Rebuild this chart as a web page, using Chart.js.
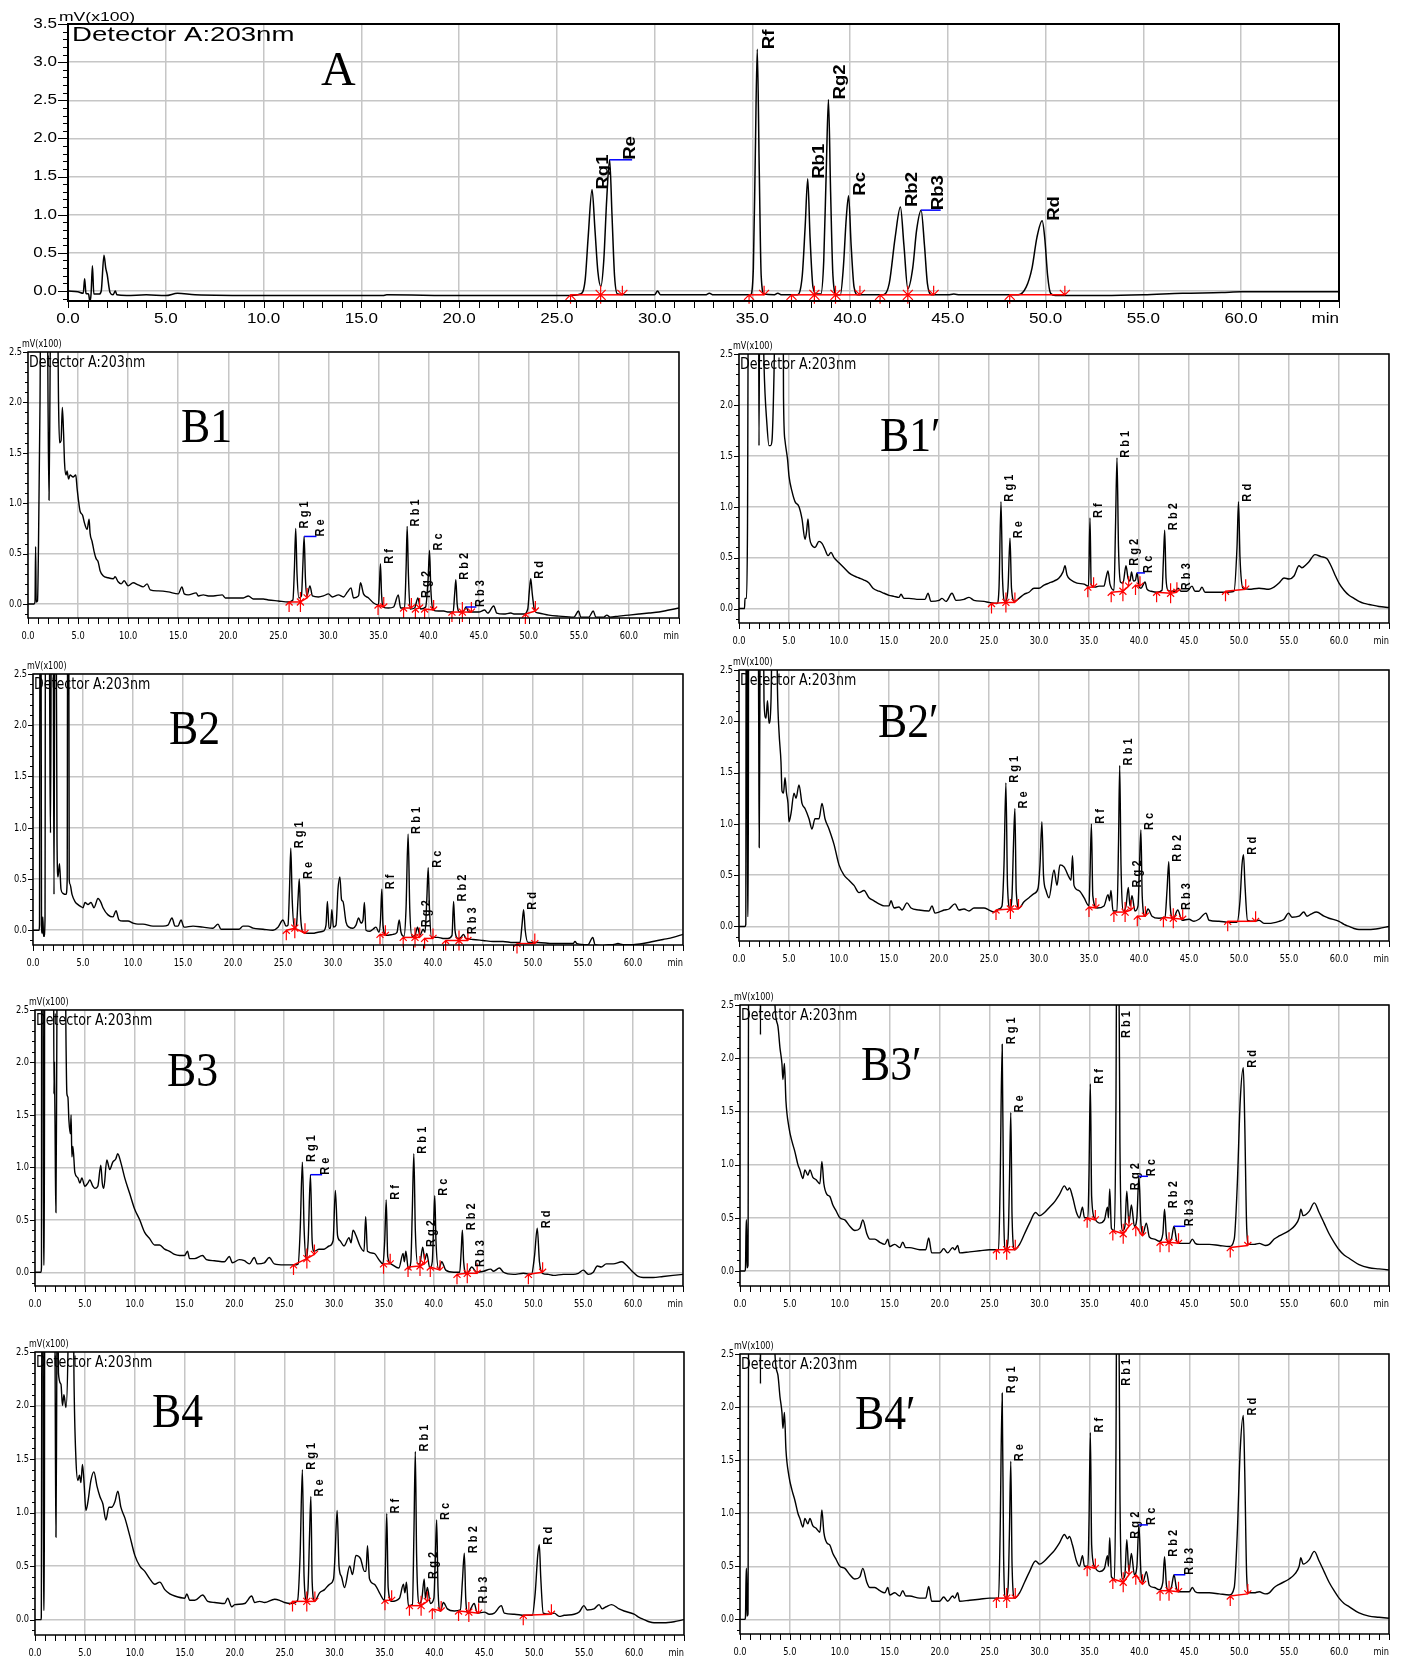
<!DOCTYPE html>
<html>
<head>
<meta charset="utf-8">
<script src="https://cdn.jsdelivr.net/npm/chart.js@4.4.1/dist/chart.umd.min.js"></script>
<style>
html, body { margin: 0; padding: 0; background: #fff; }
body { position: relative; width: 1405px; height: 1661px; overflow: hidden; }
canvas { position: absolute; }
</style>
</head>
<body>
<script>
// ---- shared labels ----
const peakNamesA = ['Rg1', 'Re', 'Rf', 'Rb1', 'Rg2', 'Rc', 'Rb2', 'Rb3', 'Rd'];
const peakNamesB = ['R g 1', 'R e', 'R f', 'R b 1', 'R g 2', 'R c', 'R b 2', 'R b 3', 'R d'];
const xTickLabels = ['0.0', '5.0', '10.0', '15.0', '20.0', '25.0', '30.0', '35.0', '40.0', '45.0', '50.0', '55.0', '60.0', 'min'];
const yTickLabelsA = ['0.0', '0.5', '1.0', '1.5', '2.0', '2.5', '3.0', '3.5'];
const yTickLabelsB = ['0.0', '0.5', '1.0', '1.5', '2.0', '2.5'];
const panelTitles = ['A', 'B1', 'B1\u2032', 'B2', 'B2\u2032', 'B3', 'B3\u2032', 'B4', 'B4\u2032'];

// ---- A : standards ----
const aTrace = [[0,0],[0.5,-0.01],[0.78,-0.03],[0.85,0.16],[0.92,-0.03],[1.05,-0.04],[1.12,-0.14],[1.18,-0.04],[1.25,0.33],[1.32,-0.04],[1.6,-0.04],[1.7,0.0],[1.84,0.47],[1.93,0.3],[2.0,0.22],[2.15,-0.02],[2.3,-0.05],[2.42,0.0],[2.5,-0.05],[3,-0.06],[4,-0.05],[5.0,-0.06],[5.6,-0.03],[6.5,-0.05],[10,-0.06],[16.1,-0.06],[16.3,-0.05],[20,-0.06],[25.5,-0.06],[26.2,-0.04],[26.45,0.15],[26.6,0.7],[26.8,1.33],[26.95,0.8],[27.1,0.25],[27.25,0.06],[27.4,0.4],[27.55,1.2],[27.7,1.72],[27.82,1.0],[27.95,0.2],[28.1,-0.04],[28.5,-0.05],[30,-0.05],[30.15,0.0],[30.3,-0.05],[32.6,-0.05],[32.8,-0.03],[33,-0.05],[34.9,-0.05],[35.05,0.3],[35.15,1.8],[35.25,3.17],[35.35,1.6],[35.45,0.2],[35.6,-0.04],[36.1,-0.05],[36.3,-0.03],[36.5,-0.05],[37.3,-0.05],[37.55,0.2],[37.7,0.85],[37.83,1.47],[37.95,0.7],[38.1,0.05],[38.3,-0.04],[38.5,-0.04],[38.65,0.4],[38.78,1.6],[38.89,2.51],[39.0,1.3],[39.12,0.2],[39.3,-0.05],[39.5,-0.05],[39.65,0.3],[39.8,0.95],[39.92,1.25],[40.05,0.6],[40.2,0.05],[40.4,-0.05],[41.7,-0.05],[42.0,0.1],[42.3,0.7],[42.57,1.10],[42.75,0.6],[42.95,0.03],[43.2,0.3],[43.4,0.8],[43.63,1.06],[43.8,0.6],[43.95,0.1],[44.15,-0.05],[45,-0.05],[45.3,-0.04],[45.6,-0.05],[48.6,-0.05],[49.0,0.05],[49.3,0.3],[49.55,0.7],[49.82,0.92],[49.95,0.7],[50.1,0.2],[50.25,-0.03],[50.5,-0.06],[53,-0.06],[55,-0.05],[57,-0.03],[59,-0.02],[60,-0.01],[63,-0.01],[65,-0.01]];
const aPeakT = [26.8, 27.7, 35.25, 37.83, 38.89, 39.92, 42.57, 43.63, 49.82];
const aPeakV = [1.33, 1.72, 3.17, 1.47, 2.51, 1.25, 1.10, 1.06, 0.92];
const aBase = [[25.7,-0.05,27.24,-0.05],[27.24,-0.05,28.35,-0.05],[34.83,-0.05,35.6,-0.05],[37.0,-0.05,38.17,-0.05],[38.17,-0.05,39.25,-0.05],[39.25,-0.05,40.5,-0.05],[41.53,-0.05,42.95,-0.05],[42.95,-0.05,44.27,-0.05],[48.16,-0.05,50.98,-0.05]];
const aBlue = [['Re', 28.85], ['Rb3', 44.63]];

// ---- B1 ----
const b1Trace = [[0,0],[0.6,0],[0.7,0.02],[0.76,0.57],[0.82,0.02],[0.95,0.03],[1.05,0.6],[1.2,2.0],[1.3,3.5],[1.9,3.5],[2.0,2.0],[2.1,1.03],[2.2,2.2],[2.3,3.5],[2.9,3.5],[3.05,2.0],[3.15,1.6],[3.3,1.62],[3.43,1.95],[3.55,1.7],[3.65,1.4],[3.8,1.28],[3.9,1.32],[4.05,1.24],[4.2,1.28],[4.5,1.26],[4.77,1.28],[4.9,1.15],[5.05,1.02],[5.2,0.92],[5.45,0.88],[5.65,0.8],[5.9,0.74],[6.1,0.84],[6.2,0.7],[6.4,0.62],[6.6,0.52],[6.8,0.45],[7.0,0.42],[7.2,0.33],[7.5,0.28],[8.0,0.26],[8.5,0.25],[8.7,0.27],[9.0,0.22],[9.3,0.2],[9.6,0.23],[10.0,0.18],[10.5,0.21],[11.0,0.19],[11.5,0.17],[11.9,0.2],[12.2,0.14],[13.0,0.13],[14.0,0.12],[15.0,0.1],[15.37,0.17],[15.6,0.1],[16.0,0.09],[16.8,0.11],[17.0,0.08],[17.5,0.09],[18.0,0.08],[18.5,0.08],[19.4,0.09],[19.7,0.06],[20.5,0.06],[21.5,0.06],[22.0,0.08],[22.5,0.05],[23.5,0.05],[24.0,0.04],[25.0,0.03],[26.0,0.02],[26.45,0.04],[26.6,0.35],[26.73,0.75],[26.86,0.3],[27.05,0.06],[27.3,0.08],[27.45,0.4],[27.57,0.67],[27.7,0.25],[27.85,0.08],[28.15,0.18],[28.4,0.08],[29.0,0.07],[29.5,0.08],[30.0,0.1],[30.4,0.07],[31.0,0.09],[31.5,0.07],[31.9,0.12],[32.25,0.16],[32.5,0.06],[33.0,0.08],[33.2,0.21],[33.5,0.1],[34.0,0.06],[34.5,0.01],[35.0,-0.01],[35.08,0.15],[35.19,0.4],[35.3,0.1],[35.45,-0.03],[36.0,-0.04],[36.5,-0.03],[36.97,0.09],[37.2,-0.04],[37.6,-0.04],[37.75,0.35],[37.86,0.77],[37.98,0.3],[38.15,-0.05],[38.6,-0.04],[38.93,0.06],[39.2,-0.05],[39.7,-0.03],[39.95,0.25],[40.09,0.53],[40.22,0.15],[40.45,-0.06],[41.0,-0.07],[41.5,-0.07],[42.0,-0.08],[42.45,-0.08],[42.6,0.1],[42.72,0.24],[42.85,0.0],[43.1,-0.08],[43.5,-0.07],[43.74,-0.03],[44.0,-0.08],[45.0,-0.08],[45.6,-0.06],[45.9,-0.09],[46.5,-0.02],[46.8,-0.09],[47.5,-0.1],[48.2,-0.09],[48.6,-0.1],[49.5,-0.1],[49.9,-0.05],[50.05,0.12],[50.2,0.25],[50.35,0.1],[50.6,-0.07],[51.0,-0.09],[52.0,-0.11],[53.0,-0.12],[54.5,-0.13],[54.97,-0.07],[55.2,-0.13],[56.0,-0.13],[56.44,-0.07],[56.7,-0.13],[57.5,-0.13],[57.8,-0.11],[58.1,-0.13],[59.0,-0.12],[60.0,-0.11],[61.0,-0.1],[62.0,-0.09],[63.0,-0.08],[64.0,-0.06],[65.0,-0.04]];
const b1PeakT = [26.73, 27.57, 35.19, 37.86, 38.93, 40.09, 42.72, 43.74, 50.2];
const b1PeakV = [0.75, 0.67, 0.40, 0.77, 0.06, 0.53, 0.24, -0.03, 0.25];
const b1Base = [[26.07,0.02,27.2,0.02],[27.2,0.02,27.87,0.06],[34.95,-0.01,35.52,-0.03],[37.5,-0.04,38.28,-0.04],[38.68,-0.05,39.1,-0.04],[39.6,-0.05,40.5,-0.06],[42.33,-0.08,43.37,-0.08],[43.37,-0.08,44.27,-0.08],[49.66,-0.1,50.66,-0.07]];
const b1Blue = [['Re', 28.8], ['Rb3', 44.77]];

// ---- B1' ----
const b1pTrace = [[0,0],[0.55,0],[0.6,0.1],[0.75,0.1],[0.85,0.8],[0.95,3.5],[1.95,3.5],[2.0,1.6],[2.08,3.5],[2.3,3.5],[2.5,2.4],[2.8,1.8],[3.0,1.6],[3.15,1.6],[3.3,1.65],[3.5,2.3],[3.7,3.5],[4.4,3.5],[4.45,2.08],[4.6,1.65],[4.86,1.46],[5.0,1.3],[5.3,1.15],[5.6,1.05],[6.0,1.0],[6.3,0.88],[6.6,0.68],[6.75,0.75],[6.9,0.88],[7.05,0.7],[7.3,0.62],[7.6,0.6],[8.0,0.66],[8.3,0.64],[8.6,0.58],[8.9,0.52],[9.2,0.55],[9.5,0.5],[10.0,0.45],[10.5,0.4],[11.0,0.35],[11.5,0.32],[12.0,0.3],[12.5,0.28],[13.0,0.25],[13.4,0.2],[14.0,0.17],[14.5,0.15],[15.0,0.13],[15.5,0.12],[16.0,0.11],[16.2,0.14],[16.5,0.1],[17.0,0.1],[18.0,0.09],[18.6,0.09],[18.9,0.15],[19.2,0.07],[20.0,0.08],[20.3,0.1],[20.7,0.07],[21.3,0.15],[21.7,0.08],[22.5,0.09],[23.0,0.11],[23.5,0.08],[24.5,0.07],[25.0,0.06],[25.8,0.05],[26.0,0.2],[26.2,1.05],[26.35,0.3],[26.6,0.07],[26.9,0.2],[27.1,0.69],[27.25,0.2],[27.55,0.07],[28.0,0.1],[28.5,0.14],[29.0,0.16],[29.5,0.2],[30.0,0.2],[30.5,0.23],[31.0,0.25],[31.5,0.27],[32.0,0.3],[32.4,0.36],[32.6,0.42],[32.8,0.33],[33.2,0.28],[33.8,0.25],[34.5,0.24],[34.95,0.22],[35.1,0.89],[35.22,0.23],[35.6,0.21],[36.0,0.22],[36.5,0.22],[36.7,0.3],[36.9,0.37],[37.1,0.24],[37.5,0.18],[37.65,0.8],[37.8,1.48],[37.95,0.6],[38.15,0.26],[38.4,0.25],[38.7,0.42],[38.9,0.3],[39.1,0.27],[39.25,0.36],[39.45,0.27],[39.65,0.28],[39.8,0.35],[40.0,0.22],[40.2,0.2],[40.6,0.26],[40.8,0.19],[41.2,0.17],[41.8,0.16],[42.3,0.18],[42.45,0.5],[42.57,0.77],[42.7,0.3],[42.9,0.18],[43.3,0.17],[43.6,0.17],[43.9,0.2],[44.2,0.17],[44.8,0.17],[45.3,0.22],[45.6,0.17],[46.0,0.17],[46.3,0.21],[46.6,0.16],[47.5,0.16],[48.5,0.16],[49.5,0.17],[49.8,0.6],[49.95,1.05],[50.1,0.5],[50.4,0.2],[51.0,0.19],[52.0,0.2],[53.0,0.19],[53.5,0.21],[54.0,0.25],[54.5,0.3],[55.0,0.29],[55.5,0.32],[56.0,0.42],[56.3,0.4],[56.7,0.43],[57.0,0.46],[57.6,0.53],[58.2,0.51],[58.8,0.49],[59.2,0.42],[59.6,0.33],[60.0,0.25],[60.5,0.18],[61.0,0.13],[61.5,0.1],[62.0,0.07],[62.5,0.05],[63.0,0.04],[64.0,0.02],[65.0,0.01]];
const b1pPeakT = [26.2, 27.1, 35.1, 37.8, 38.7, 39.8, 42.57, 43.9, 49.95];
const b1pPeakV = [1.05, 0.69, 0.89, 1.48, 0.42, 0.35, 0.77, 0.18, 1.05];
const b1pBase = [[25.25,0.05,26.69,0.06],[26.69,0.06,27.59,0.06],[34.88,0.21,35.46,0.21],[37.22,0.16,38.39,0.17],[38.39,0.17,38.97,0.22],[39.65,0.23,40.1,0.22],[41.76,0.16,43.16,0.15],[43.16,0.15,43.79,0.16],[48.65,0.17,50.67,0.19]];
const b1pBlue = [['Rc', 40.6]];

// ---- B2 ----
const b2Trace = [[0,0],[0.6,0],[0.65,0.05],[0.7,3.5],[0.8,3.5],[0.85,0.05],[0.92,-0.03],[0.98,0.13],[1.05,-0.04],[1.1,-0.06],[1.2,0.1],[1.25,3.5],[1.6,3.5],[1.7,1.5],[1.75,0.95],[1.85,3.5],[2.0,3.5],[2.1,0.35],[2.2,3.5],[2.3,3.5],[2.4,0.9],[2.5,0.52],[2.65,0.65],[2.8,0.4],[3.0,0.36],[3.3,0.35],[3.42,0.5],[3.47,3.5],[3.57,3.5],[3.62,0.5],[3.7,0.45],[3.9,0.35],[4.2,0.28],[4.5,0.25],[4.8,0.23],[5.0,0.22],[5.2,0.27],[5.5,0.25],[5.8,0.27],[6.1,0.22],[6.5,0.31],[6.8,0.27],[7.0,0.22],[7.5,0.15],[8.0,0.13],[8.3,0.19],[8.6,0.1],[9.0,0.09],[9.5,0.09],[10.0,0.07],[10.5,0.06],[11.0,0.06],[12.0,0.04],[13.0,0.04],[13.5,0.05],[13.9,0.12],[14.2,0.04],[14.5,0.04],[14.8,0.1],[15.1,0.03],[16.0,0.04],[17.0,0.03],[18.0,0.02],[18.5,0.06],[18.8,0.01],[20.0,0.01],[20.6,0.01],[21.0,0.04],[21.5,0.04],[22.0,0.02],[23.0,0.01],[24.0,0.0],[24.5,0.03],[25.0,0.1],[25.3,0.04],[25.5,0.05],[25.65,0.4],[25.78,0.8],[25.92,0.3],[26.15,0.02],[26.35,0.05],[26.5,0.3],[26.63,0.5],[26.75,0.15],[27.0,-0.02],[27.5,-0.03],[28.0,-0.03],[28.5,-0.02],[29.0,-0.01],[29.3,0.05],[29.44,0.28],[29.6,0.02],[29.75,0.02],[29.88,0.2],[30.05,0.03],[30.3,0.05],[30.5,0.4],[30.69,0.52],[30.85,0.3],[31.0,0.28],[31.3,0.08],[31.6,0.03],[32.0,0.02],[32.3,0.05],[32.56,0.12],[32.8,0.07],[33.0,0.1],[33.14,0.27],[33.3,0.0],[33.7,-0.01],[34.0,0.01],[34.3,0.03],[34.6,-0.02],[34.75,0.1],[34.88,0.4],[35.0,0.05],[35.3,-0.05],[36.0,-0.04],[36.4,-0.02],[36.62,0.1],[36.8,-0.02],[37.1,-0.06],[37.3,0.2],[37.51,0.94],[37.68,0.2],[37.9,-0.06],[38.2,-0.05],[38.45,0.03],[38.7,-0.05],[39.0,0.01],[39.2,-0.02],[39.38,0.3],[39.52,0.61],[39.65,0.2],[39.85,-0.07],[40.5,-0.07],[41.0,-0.08],[41.5,-0.08],[41.9,-0.05],[42.06,0.28],[42.2,0.0],[42.5,-0.08],[42.8,-0.07],[43.04,-0.04],[43.3,-0.08],[44.0,-0.09],[45.0,-0.1],[46.0,-0.11],[47.0,-0.11],[48.0,-0.12],[48.7,-0.12],[48.9,0.05],[49.06,0.2],[49.22,0.0],[49.5,-0.12],[50.5,-0.12],[52.0,-0.13],[53.0,-0.13],[54.0,-0.13],[54.2,-0.11],[54.4,-0.13],[55.5,-0.14],[55.98,-0.07],[56.2,-0.14],[57.0,-0.15],[57.5,-0.14],[58.0,-0.14],[58.5,-0.13],[59.0,-0.14],[60.0,-0.14],[61.0,-0.13],[62.0,-0.11],[63.0,-0.09],[64.0,-0.07],[65.0,-0.04]];
const b2PeakT = [25.78, 26.63, 34.88, 37.51, 38.45, 39.52, 42.06, 43.04, 49.06];
const b2PeakV = [0.80, 0.50, 0.40, 0.94, 0.03, 0.61, 0.28, -0.04, 0.20];
const b2Base = [[25.33,0.0,26.18,0.02],[26.18,0.02,27.2,-0.03],[34.7,-0.04,35.24,-0.05],[37.02,-0.07,38.2,-0.07],[38.2,-0.07,38.67,-0.07],[39.16,-0.08,40.0,-0.08],[41.26,-0.1,42.6,-0.1],[42.6,-0.1,43.49,-0.1],[48.4,-0.13,50.18,-0.13]];
const b2Blue = [];

// ---- B2' ----
const b2pTrace = [[0,0],[0.6,0],[0.68,0.02],[0.72,3.5],[0.8,3.5],[0.85,0.1],[0.92,0.1],[0.97,3.5],[1.9,3.5],[1.97,2.0],[2.02,0.77],[2.08,2.0],[2.15,3.5],[2.4,3.5],[2.5,2.2],[2.7,2.03],[2.85,2.2],[3.0,1.98],[3.2,2.2],[3.4,3.5],[3.7,3.5],[3.85,2.3],[4.0,1.9],[4.2,1.6],[4.3,1.32],[4.45,1.3],[4.6,1.45],[4.75,1.3],[4.9,1.2],[5.0,1.02],[5.2,1.1],[5.5,1.3],[5.7,1.25],[6.0,1.38],[6.3,1.2],[6.6,1.15],[7.0,1.05],[7.3,0.95],[7.6,1.05],[8.0,1.05],[8.3,1.2],[8.6,1.05],[9.0,0.95],[9.5,0.8],[10.0,0.6],[10.5,0.5],[11.0,0.45],[11.5,0.4],[12.0,0.33],[12.5,0.35],[13.0,0.28],[13.5,0.25],[14.0,0.22],[14.5,0.2],[15.0,0.2],[15.2,0.25],[15.5,0.18],[16.0,0.19],[16.3,0.16],[16.8,0.23],[17.2,0.18],[18.0,0.16],[19.0,0.15],[19.3,0.2],[19.6,0.13],[20.0,0.14],[20.5,0.16],[21.0,0.17],[21.6,0.22],[22.0,0.16],[22.5,0.17],[23.0,0.15],[23.5,0.18],[24.5,0.18],[25.0,0.16],[25.5,0.14],[26.0,0.17],[26.3,0.2],[26.5,0.6],[26.69,1.4],[26.85,0.4],[27.1,0.18],[27.3,0.3],[27.45,0.8],[27.59,1.15],[27.72,0.35],[28.0,0.18],[28.5,0.24],[29.0,0.28],[29.5,0.32],[29.9,0.37],[30.1,0.6],[30.29,1.02],[30.45,0.5],[30.7,0.35],[31.0,0.28],[31.5,0.55],[31.8,0.4],[32.09,0.6],[32.5,0.58],[33.0,0.48],[33.2,0.45],[33.35,0.69],[33.5,0.4],[34.0,0.35],[34.5,0.28],[35.0,0.2],[35.1,0.5],[35.24,1.0],[35.38,0.3],[35.8,0.18],[36.5,0.2],[36.9,0.31],[37.05,0.25],[37.2,0.35],[37.4,0.15],[37.8,0.15],[37.95,0.8],[38.07,1.57],[38.2,0.6],[38.45,0.15],[38.7,0.2],[38.93,0.38],[39.1,0.2],[39.3,0.3],[39.6,0.15],[39.9,0.2],[40.05,0.6],[40.19,0.94],[40.32,0.3],[40.6,0.1],[40.9,0.17],[41.3,0.1],[42.0,0.08],[42.6,0.09],[42.8,0.35],[42.98,0.63],[43.12,0.2],[43.4,0.07],[43.88,0.16],[44.3,0.06],[45.0,0.07],[45.5,0.05],[46.0,0.07],[46.7,0.13],[47.0,0.06],[48.0,0.05],[49.0,0.04],[49.8,0.04],[50.1,0.25],[50.3,0.6],[50.45,0.7],[50.6,0.4],[50.85,0.06],[51.5,0.05],[52.0,0.06],[52.5,0.03],[53.0,0.03],[54.0,0.05],[54.5,0.07],[54.95,0.13],[55.3,0.09],[56.0,0.1],[56.48,0.14],[56.8,0.1],[57.2,0.12],[57.74,0.14],[58.5,0.1],[59.0,0.08],[60.0,0.05],[60.5,0.02],[61.0,0.0],[61.5,-0.02],[62.0,-0.03],[63.0,-0.03],[64.0,-0.02],[65.0,0.0]];
const b2pPeakT = [26.69, 27.59, 35.24, 38.07, 38.93, 40.19, 42.98, 43.88, 50.45];
const b2pPeakV = [1.40, 1.15, 1.00, 1.57, 0.38, 0.94, 0.63, 0.16, 0.70];
const b2pBase = [[25.7,0.16,27.14,0.17],[27.14,0.17,27.95,0.17],[35.0,0.19,35.69,0.18],[37.49,0.14,38.61,0.14],[38.61,0.14,39.2,0.16],[39.83,0.1,40.64,0.1],[42.44,0.09,43.43,0.08],[43.43,0.08,44.37,0.07],[48.87,0.05,51.66,0.05]];
const b2pBlue = [];

// ---- B3 ----
const b3Trace = [[0,0],[0.6,0],[0.65,0.05],[0.67,3.5],[0.8,3.5],[0.85,0.07],[0.93,0.07],[0.98,3.5],[1.85,3.5],[1.9,1.7],[1.95,2.0],[2.05,0.9],[2.1,0.57],[2.18,2.0],[2.25,3.5],[3.0,3.5],[3.1,2.3],[3.2,1.7],[3.3,1.67],[3.4,1.45],[3.55,1.32],[3.62,1.5],[3.7,1.1],[3.8,1.2],[4.0,0.95],[4.3,0.9],[4.5,0.85],[4.7,0.9],[5.0,0.82],[5.3,0.85],[5.5,0.88],[5.8,0.82],[6.0,0.8],[6.3,0.82],[6.6,1.02],[6.75,0.85],[6.9,0.8],[7.2,1.07],[7.5,0.98],[7.8,1.05],[8.1,1.08],[8.3,1.13],[8.6,1.05],[9.0,0.9],[9.5,0.75],[10.0,0.6],[10.5,0.5],[11.0,0.38],[11.5,0.32],[12.0,0.26],[12.5,0.26],[13.0,0.22],[13.5,0.2],[14.0,0.17],[14.5,0.16],[15.0,0.16],[15.3,0.2],[15.5,0.13],[16.0,0.13],[16.8,0.16],[17.2,0.12],[18.0,0.11],[19.0,0.1],[19.5,0.15],[19.8,0.09],[20.5,0.12],[21.0,0.11],[21.5,0.08],[22.0,0.14],[22.3,0.08],[23.0,0.09],[23.5,0.14],[24.0,0.08],[25.0,0.07],[26.0,0.07],[26.4,0.08],[26.6,0.4],[26.82,1.05],[27.0,0.4],[27.2,0.12],[27.4,0.3],[27.63,0.93],[27.8,0.3],[28.0,0.2],[28.5,0.22],[29.0,0.22],[29.5,0.25],[29.9,0.3],[30.13,0.78],[30.35,0.35],[30.6,0.3],[31.0,0.25],[31.5,0.33],[31.7,0.28],[31.9,0.4],[32.2,0.35],[32.6,0.25],[33.0,0.2],[33.17,0.53],[33.35,0.2],[34.0,0.18],[34.5,0.12],[34.9,0.08],[35.08,0.3],[35.23,0.69],[35.38,0.15],[35.7,0.08],[36.5,0.04],[36.92,0.18],[37.05,0.1],[37.2,0.2],[37.45,0.03],[37.7,0.1],[37.85,0.6],[38.0,1.13],[38.15,0.4],[38.4,0.08],[38.6,0.08],[38.89,0.24],[39.1,0.12],[39.3,0.18],[39.6,0.04],[39.85,0.1],[40.0,0.5],[40.1,0.73],[40.22,0.3],[40.5,0.03],[40.8,0.1],[41.2,0.02],[42.0,0.0],[42.6,0.0],[42.75,0.2],[42.87,0.4],[43.0,0.1],[43.3,-0.02],[43.81,0.05],[44.3,0.0],[45.0,0.01],[45.7,0.03],[46.0,0.01],[46.58,0.04],[47.0,0.0],[48.0,-0.02],[49.0,-0.01],[49.8,-0.02],[50.1,0.15],[50.38,0.42],[50.6,0.1],[50.9,-0.01],[51.5,-0.02],[52.0,-0.03],[53.0,-0.02],[54.0,-0.02],[54.5,-0.01],[55.0,0.02],[55.5,-0.02],[56.0,0.0],[56.4,0.06],[56.8,0.05],[57.3,0.08],[58.0,0.08],[58.87,0.1],[59.3,0.07],[59.7,0.03],[60.0,0.0],[60.5,-0.04],[61.0,-0.05],[62.0,-0.05],[63.0,-0.04],[64.0,-0.03],[65.0,-0.02]];
const b3PeakT = [26.82, 27.63, 35.23, 38.0, 38.89, 40.1, 42.87, 43.81, 50.38];
const b3PeakV = [1.05, 0.93, 0.69, 1.13, 0.24, 0.73, 0.40, 0.05, 0.42];
const b3Base = [[25.93,0.07,27.27,0.13],[27.27,0.13,28.03,0.17],[34.96,0.08,35.63,0.08],[37.42,0.05,38.62,0.06],[38.62,0.06,39.07,0.08],[39.65,0.05,40.63,0.02],[42.33,-0.02,43.36,-0.01],[43.36,-0.01,44.35,-0.01],[49.49,-0.02,50.92,0.0]];
const b3Blue = [['Re', 28.8]];

// ---- B3' ----
const b3pTrace = [[0,0],[0.5,0],[0.55,0.03],[0.62,0.48],[0.66,0.48],[0.7,0.03],[0.8,0.05],[0.88,3.5],[2.0,3.5],[2.05,2.22],[2.1,3.5],[3.3,3.5],[3.5,2.5],[3.8,2.3],[4.0,2.1],[4.2,1.95],[4.3,1.8],[4.45,1.95],[4.6,1.6],[4.9,1.35],[5.2,1.22],[5.5,1.12],[5.8,1.0],[6.0,0.95],[6.3,0.87],[6.5,0.95],[6.8,0.9],[7.0,0.95],[7.3,0.88],[7.6,0.86],[8.0,0.82],[8.2,1.03],[8.4,0.82],[8.7,0.72],[9.0,0.7],[9.3,0.62],[9.6,0.57],[10.0,0.5],[10.5,0.48],[11.0,0.42],[11.5,0.38],[12.0,0.4],[12.3,0.48],[12.7,0.35],[13.0,0.3],[13.5,0.3],[14.0,0.27],[14.5,0.25],[14.8,0.3],[15.0,0.23],[15.5,0.25],[16.0,0.22],[16.3,0.27],[16.6,0.22],[17.0,0.22],[18.0,0.2],[18.6,0.2],[18.9,0.31],[19.2,0.17],[20.0,0.17],[20.4,0.21],[20.8,0.17],[21.3,0.22],[21.5,0.2],[21.8,0.24],[22.0,0.17],[23.0,0.18],[24.0,0.19],[25.0,0.2],[25.9,0.2],[26.05,0.8],[26.26,2.13],[26.4,0.6],[26.6,0.2],[26.85,0.3],[26.98,0.8],[27.12,1.49],[27.25,0.5],[27.5,0.2],[28.0,0.25],[28.5,0.35],[29.0,0.45],[29.6,0.55],[30.0,0.52],[30.5,0.55],[31.0,0.6],[31.5,0.65],[32.0,0.72],[32.5,0.8],[32.8,0.76],[33.0,0.78],[33.3,0.7],[33.7,0.55],[34.0,0.5],[34.3,0.6],[34.5,0.5],[34.85,0.5],[34.95,0.9],[35.09,1.76],[35.22,0.7],[35.5,0.5],[36.0,0.45],[36.5,0.48],[36.8,0.6],[36.9,0.5],[37.03,0.77],[37.2,0.4],[37.5,0.38],[37.65,1.5],[37.75,3.5],[37.9,3.5],[38.05,1.2],[38.3,0.38],[38.55,0.42],[38.74,0.75],[38.95,0.45],[39.2,0.62],[39.5,0.42],[39.75,0.5],[39.95,0.89],[40.15,0.45],[40.35,0.35],[40.7,0.45],[41.0,0.32],[41.5,0.3],[42.0,0.28],[42.35,0.35],[42.52,0.58],[42.7,0.33],[42.9,0.27],[43.2,0.3],[43.47,0.42],[43.7,0.3],[43.9,0.26],[44.5,0.26],[45.0,0.26],[45.3,0.3],[45.6,0.26],[46.0,0.25],[47.0,0.25],[48.0,0.24],[49.0,0.23],[49.5,0.3],[49.8,0.8],[50.1,1.6],[50.41,1.91],[50.55,1.4],[50.75,0.4],[50.95,0.25],[51.5,0.25],[52.0,0.26],[52.6,0.24],[53.0,0.25],[53.5,0.3],[54.0,0.33],[55.0,0.38],[55.6,0.43],[56.0,0.5],[56.17,0.58],[56.4,0.52],[57.0,0.56],[57.52,0.64],[58.0,0.55],[58.5,0.45],[59.0,0.35],[59.5,0.27],[60.0,0.2],[60.5,0.15],[61.0,0.12],[62.0,0.06],[63.0,0.03],[64.0,0.02],[65.0,0.01]];
const b3pPeakT = [26.26, 27.12, 35.09, 37.84, 38.74, 39.95, 42.52, 43.47, 50.41];
const b3pPeakV = [2.13, 1.49, 1.76, 2.19, 0.76, 0.89, 0.59, 0.42, 1.91];
const b3pBase = [[25.68,0.2,26.71,0.2],[26.71,0.2,27.57,0.2],[34.77,0.5,35.59,0.48],[37.34,0.38,38.38,0.35],[38.38,0.35,38.96,0.42],[39.64,0.42,40.32,0.33],[42.07,0.27,42.97,0.27],[42.97,0.27,43.92,0.26],[49.1,0.22,50.86,0.24]];
const b3pBlue = [['Rc', 40.86], ['Rb3', 44.6]];

// ---- B4 ----
const b4Trace = [[0,0],[0.6,0],[0.63,0.02],[0.7,3.5],[0.8,3.5],[0.85,0.09],[0.93,0.09],[0.98,3.5],[1.95,3.5],[2.05,1.5],[2.1,0.77],[2.17,2.0],[2.24,3.5],[2.35,2.3],[2.6,2.2],[2.75,2.0],[2.9,2.1],[3.1,1.98],[3.3,2.5],[3.4,3.5],[3.8,3.5],[3.9,2.3],[4.1,1.5],[4.3,1.3],[4.45,1.35],[4.6,1.28],[4.75,1.45],[4.9,1.3],[5.1,1.02],[5.3,1.1],[5.6,1.3],[5.9,1.38],[6.2,1.25],[6.5,1.15],[6.8,1.08],[7.1,0.93],[7.4,1.05],[7.7,1.05],[8.0,1.1],[8.3,1.2],[8.6,1.05],[9.0,0.95],[9.5,0.78],[10.0,0.6],[10.5,0.5],[11.0,0.45],[11.5,0.38],[12.0,0.33],[12.5,0.35],[13.0,0.28],[13.5,0.24],[14.0,0.22],[15.0,0.2],[15.2,0.24],[15.5,0.18],[16.0,0.18],[16.8,0.23],[17.3,0.17],[18.0,0.16],[19.0,0.15],[19.3,0.2],[19.7,0.12],[20.0,0.14],[21.0,0.15],[21.7,0.22],[22.0,0.16],[22.5,0.17],[23.0,0.16],[24.0,0.19],[24.5,0.18],[25.0,0.16],[25.6,0.15],[26.3,0.18],[26.55,0.6],[26.78,1.4],[26.95,0.4],[27.2,0.18],[27.35,0.3],[27.5,0.8],[27.63,1.15],[27.76,0.35],[28.0,0.17],[28.5,0.25],[29.0,0.28],[29.5,0.33],[29.9,0.38],[30.05,0.6],[30.26,1.02],[30.45,0.5],[30.7,0.4],[31.0,0.3],[31.52,0.5],[31.8,0.42],[32.14,0.6],[32.6,0.57],[33.0,0.45],[33.15,0.45],[33.3,0.69],[33.5,0.38],[34.0,0.33],[34.5,0.25],[35.0,0.18],[35.1,0.5],[35.23,0.99],[35.37,0.3],[35.7,0.17],[36.5,0.2],[36.9,0.33],[37.05,0.25],[37.2,0.35],[37.4,0.13],[37.8,0.14],[37.95,0.8],[38.09,1.57],[38.22,0.6],[38.5,0.15],[38.75,0.2],[38.98,0.38],[39.1,0.2],[39.3,0.3],[39.6,0.15],[39.95,0.2],[40.1,0.6],[40.23,0.93],[40.36,0.3],[40.6,0.08],[40.9,0.16],[41.3,0.1],[42.0,0.08],[42.6,0.09],[42.8,0.35],[43.0,0.62],[43.14,0.2],[43.35,0.06],[43.99,0.15],[44.3,0.06],[45.0,0.07],[45.5,0.05],[46.0,0.06],[46.71,0.13],[47.0,0.06],[48.0,0.05],[49.0,0.04],[49.8,0.04],[50.1,0.25],[50.35,0.6],[50.51,0.7],[50.65,0.4],[50.9,0.06],[51.5,0.05],[52.0,0.06],[52.5,0.03],[53.0,0.04],[54.0,0.05],[54.5,0.07],[54.98,0.13],[55.3,0.09],[56.0,0.1],[56.5,0.14],[56.8,0.1],[57.2,0.12],[57.75,0.14],[58.5,0.1],[59.0,0.08],[60.0,0.05],[60.5,0.02],[61.0,0.0],[61.5,-0.02],[62.0,-0.03],[63.0,-0.03],[64.0,-0.02],[65.0,0.0]];
const b4PeakT = [26.78, 27.63, 35.23, 38.09, 38.98, 40.23, 43.0, 43.99, 50.51];
const b4PeakV = [1.40, 1.15, 0.99, 1.57, 0.38, 0.93, 0.62, 0.15, 0.70];
const b4Base = [[25.79,0.17,27.22,0.17],[27.22,0.17,28.03,0.17],[35.05,0.18,35.72,0.18],[37.5,0.13,38.67,0.13],[38.67,0.13,39.29,0.17],[39.79,0.1,40.68,0.08],[42.42,0.08,43.45,0.07],[43.45,0.07,44.43,0.06],[48.9,0.04,51.72,0.05]];
const b4Blue = [];

// ---- B4' ----
const b4pTrace = [[0,0],[0.5,0],[0.55,0.03],[0.62,0.48],[0.66,0.48],[0.7,0.03],[0.8,0.05],[0.88,3.5],[2.0,3.5],[2.05,2.22],[2.1,3.5],[3.3,3.5],[3.5,2.5],[3.8,2.3],[4.0,2.1],[4.2,1.95],[4.3,1.8],[4.45,1.95],[4.6,1.6],[4.9,1.35],[5.2,1.22],[5.5,1.12],[5.8,1.0],[6.0,0.95],[6.3,0.87],[6.5,0.95],[6.8,0.9],[7.0,0.95],[7.3,0.88],[7.6,0.86],[8.0,0.82],[8.2,1.03],[8.4,0.82],[8.7,0.72],[9.0,0.7],[9.3,0.62],[9.6,0.57],[10.0,0.5],[10.5,0.48],[11.0,0.42],[11.5,0.38],[12.0,0.4],[12.3,0.48],[12.7,0.35],[13.0,0.3],[13.5,0.3],[14.0,0.27],[14.5,0.25],[14.8,0.3],[15.0,0.23],[15.5,0.25],[16.0,0.22],[16.3,0.27],[16.6,0.22],[17.0,0.22],[18.0,0.2],[18.6,0.2],[18.9,0.31],[19.2,0.17],[20.0,0.17],[20.4,0.21],[20.8,0.17],[21.3,0.22],[21.5,0.2],[21.8,0.25],[22.0,0.17],[23.0,0.18],[24.0,0.19],[25.0,0.2],[25.9,0.2],[26.05,0.8],[26.26,2.13],[26.4,0.6],[26.6,0.2],[26.85,0.3],[26.98,0.8],[27.12,1.49],[27.25,0.5],[27.5,0.2],[28.0,0.25],[28.5,0.35],[29.0,0.45],[29.6,0.55],[30.0,0.52],[30.5,0.55],[31.0,0.6],[31.5,0.65],[32.0,0.72],[32.5,0.8],[32.8,0.76],[33.0,0.78],[33.3,0.7],[33.7,0.55],[34.0,0.5],[34.3,0.6],[34.5,0.5],[34.85,0.5],[34.95,0.9],[35.09,1.76],[35.22,0.7],[35.5,0.5],[36.0,0.45],[36.5,0.48],[36.8,0.6],[36.9,0.5],[37.03,0.77],[37.2,0.4],[37.5,0.38],[37.65,1.5],[37.75,3.5],[37.9,3.5],[38.05,1.2],[38.3,0.38],[38.55,0.42],[38.74,0.75],[38.95,0.45],[39.2,0.62],[39.5,0.42],[39.75,0.5],[39.95,0.89],[40.15,0.45],[40.35,0.35],[40.7,0.45],[41.0,0.32],[41.5,0.3],[42.0,0.28],[42.35,0.35],[42.52,0.59],[42.7,0.33],[42.9,0.27],[43.2,0.3],[43.47,0.42],[43.7,0.3],[43.9,0.26],[44.5,0.26],[45.0,0.26],[45.3,0.3],[45.6,0.26],[46.0,0.25],[47.0,0.25],[48.0,0.24],[49.0,0.23],[49.5,0.3],[49.8,0.8],[50.1,1.6],[50.41,1.92],[50.55,1.4],[50.75,0.4],[50.95,0.25],[51.5,0.25],[52.0,0.26],[52.6,0.24],[53.0,0.25],[53.5,0.3],[54.0,0.33],[55.0,0.38],[55.6,0.43],[56.0,0.5],[56.17,0.58],[56.4,0.52],[57.0,0.56],[57.52,0.64],[58.0,0.55],[58.5,0.45],[59.0,0.35],[59.5,0.27],[60.0,0.2],[60.5,0.15],[61.0,0.12],[62.0,0.06],[63.0,0.03],[64.0,0.02],[65.0,0.01]];
const b4pPeakT = [26.26, 27.12, 35.09, 37.84, 38.74, 39.95, 42.52, 43.47, 50.41];
const b4pPeakV = [2.13, 1.49, 1.76, 2.2, 0.76, 0.89, 0.59, 0.42, 1.92];
const b4pBase = [[25.68,0.2,26.71,0.2],[26.71,0.2,27.57,0.2],[34.77,0.5,35.59,0.48],[37.34,0.38,38.38,0.35],[38.38,0.35,38.96,0.42],[39.64,0.42,40.32,0.33],[42.07,0.27,42.97,0.27],[42.97,0.27,43.92,0.26],[49.1,0.22,50.86,0.24]];
const b4pBlue = [['Rc', 40.86], ['Rb3', 44.6]];

// ---- panels ----
const panels = [
  { id: 'pA',  kind: 'A', title: panelTitles[0], trace: aTrace,   peakT: aPeakT,   peakV: aPeakV,   base: aBase,   blue: aBlue },
  { id: 'pB1', kind: 'B', title: panelTitles[1], trace: b1Trace,  peakT: b1PeakT,  peakV: b1PeakV,  base: b1Base,  blue: b1Blue },
  { id: 'pB1p',kind: 'B', title: panelTitles[2], trace: b1pTrace, peakT: b1pPeakT, peakV: b1pPeakV, base: b1pBase, blue: b1pBlue },
  { id: 'pB2', kind: 'B', title: panelTitles[3], trace: b2Trace,  peakT: b2PeakT,  peakV: b2PeakV,  base: b2Base,  blue: b2Blue },
  { id: 'pB2p',kind: 'B', title: panelTitles[4], trace: b2pTrace, peakT: b2pPeakT, peakV: b2pPeakV, base: b2pBase, blue: b2pBlue },
  { id: 'pB3', kind: 'B', title: panelTitles[5], trace: b3Trace,  peakT: b3PeakT,  peakV: b3PeakV,  base: b3Base,  blue: b3Blue },
  { id: 'pB3p',kind: 'B', title: panelTitles[6], trace: b3pTrace, peakT: b3pPeakT, peakV: b3pPeakV, base: b3pBase, blue: b3pBlue },
  { id: 'pB4', kind: 'B', title: panelTitles[7], trace: b4Trace,  peakT: b4PeakT,  peakV: b4PeakV,  base: b4Base,  blue: b4Blue },
  { id: 'pB4p',kind: 'B', title: panelTitles[8], trace: b4pTrace, peakT: b4pPeakT, peakV: b4pPeakV, base: b4pBase, blue: b4pBlue }
];

// plot boxes (px) and axis range; big letter offset from plot top-left
const layout = {
  pA:   { x: 68,  y: 24,   w: 1271, h: 277, ymin: -0.131, ymax: 3.5, bigX: 253, bigY: 61 },
  pB1:  { x: 28,  y: 352,  w: 651,  h: 266, ymin: -0.139, ymax: 2.5, bigX: 153, bigY: 90 },
  pB1p: { x: 739, y: 354,  w: 650,  h: 269, ymin: -0.142, ymax: 2.5, bigX: 141, bigY: 97 },
  pB2:  { x: 33,  y: 674,  w: 650,  h: 271, ymin: -0.144, ymax: 2.5, bigX: 136, bigY: 70 },
  pB2p: { x: 739, y: 670,  w: 650,  h: 271, ymin: -0.142, ymax: 2.5, bigX: 139, bigY: 67 },
  pB3:  { x: 35,  y: 1010, w: 648,  h: 276, ymin: -0.131, ymax: 2.5, bigX: 132, bigY: 76 },
  pB3p: { x: 740, y: 1005, w: 649,  h: 281, ymin: -0.141, ymax: 2.5, bigX: 121, bigY: 75 },
  pB4:  { x: 35,  y: 1352, w: 649,  h: 283, ymin: -0.144, ymax: 2.5, bigX: 117, bigY: 75 },
  pB4p: { x: 740, y: 1354, w: 649,  h: 280, ymin: -0.138, ymax: 2.5, bigX: 115, bigY: 75 }
};

const styleA = {
  padL: 68, padT: 24, padR: 14, padB: 32,
  tickFont: '14px "Liberation Sans"', tickSx: 1.22, xLabDy: 18, yLabGap: 11,
  xTick: 7, yMinor: 5, yMajor: 10, frame: 2, line: 1.5, grid: 1.5,
  mvFont: '13px "Liberation Sans"', mvSx: 1.35, mvDx: -9, mvDy: -3,
  detFont: '20px "Liberation Sans"', detSx: 1.38, detDx: 4, detDy: 17,
  bigFont: '48px "Liberation Serif"', bigSx: 1.0,
  pkFont: 'bold 16px "Liberation Sans"', pkSx: 1.16, pkDx: 4, pkBlueDx: -10,
  arrow: 9, head: 5, redW: 1.5
};
const styleB = {
  padL: 40, padT: 22, padR: 14, padB: 28,
  tickFont: '11px "DejaVu Sans"', tickSx: 0.75, xLabDy: 18, yLabGap: 6,
  xTick: 6, yMinor: 3, yMajor: 5, frame: 1.5, line: 1.4, grid: 1.5,
  mvFont: '10px "DejaVu Sans"', mvSx: 0.8, mvDx: -6, mvDy: -5,
  detFont: '16px "DejaVu Sans"', detSx: 0.79, detDx: 1, detDy: 15,
  bigFont: '48px "Liberation Serif"', bigSx: 0.91,
  pkFont: 'bold 12px "Liberation Sans"', pkSx: 0.92, pkDx: 3, pkBlueDx: -2,
  arrow: 10, head: 3.5, redW: 1.5
};

function drawText(ctx, s, x, y, font, sx, align) {
  ctx.font = font;
  const w = ctx.measureText(s).width * sx;
  const x0 = align === 'center' ? x - w / 2 : align === 'right' ? x - w : x;
  ctx.save();
  ctx.translate(x0, y);
  ctx.scale(sx, 1);
  ctx.textAlign = 'left';
  ctx.fillText(s, 0, 0);
  ctx.restore();
}

const panelById = {};
panels.forEach(p => { panelById[p.id] = p; });

// draws frame, ticks, texts, integration marks and peak names on top of the trace
const chromoPlugin = {
  id: 'chromo',
  afterDatasetsDraw(chart) {
    const P = panelById[chart.canvas.id];
    const L = layout[P.id];
    const s = P.kind === 'A' ? styleA : styleB;
    const ctx = chart.ctx, xs = chart.scales.x, ys = chart.scales.y, a = chart.chartArea;
    const X = t => xs.getPixelForValue(t), Y = v => ys.getPixelForValue(v);
    ctx.save();

    // integration baselines with start/end arrows
    ctx.strokeStyle = '#ff0000';
    P.base.forEach(([t1, v1, t2, v2]) => {
      const x1 = X(t1), y1 = Y(v1), x2 = X(t2), y2 = Y(v2);
      ctx.lineWidth = s.redW;
      ctx.beginPath(); ctx.moveTo(x1, y1); ctx.lineTo(x2, y2); ctx.stroke();
      ctx.lineWidth = 1.2;
      ctx.beginPath();
      ctx.moveTo(x1, y1); ctx.lineTo(x1, y1 + s.arrow);
      ctx.moveTo(x1 - s.head, y1 + s.head); ctx.lineTo(x1, y1); ctx.lineTo(x1 + s.head, y1 + s.head);
      ctx.moveTo(x2, y2); ctx.lineTo(x2, y2 - s.arrow);
      ctx.moveTo(x2 - s.head, y2 - s.head); ctx.lineTo(x2, y2); ctx.lineTo(x2 + s.head, y2 - s.head);
      ctx.stroke();
    });

    // peak names (rotated) and blue label lines
    const names = P.kind === 'A' ? peakNamesA : peakNamesB;
    ctx.fillStyle = '#000';
    P.peakT.forEach((t, i) => {
      const y = Y(P.peakV[i]);
      let x = X(t) + s.pkDx;
      const bl = P.blue.find(b => b[0] === peakNamesA[i]);
      if (bl) {
        const xe = X(bl[1]);
        ctx.strokeStyle = '#0000ff'; ctx.lineWidth = 1.5;
        ctx.beginPath(); ctx.moveTo(X(t), y); ctx.lineTo(xe, y); ctx.stroke();
        x = xe + s.pkBlueDx;
      }
      ctx.save();
      ctx.translate(x, y);
      ctx.rotate(-Math.PI / 2);
      ctx.scale(s.pkSx, 1);
      ctx.font = s.pkFont;
      ctx.textBaseline = 'top';
      ctx.textAlign = 'left';
      ctx.fillText(names[i], 0, 0);
      ctx.restore();
    });

    // frame
    ctx.strokeStyle = '#000';
    ctx.lineWidth = s.frame;
    ctx.strokeRect(a.left, a.top, a.right - a.left, a.bottom - a.top);

    // minor / major tick marks
    ctx.lineWidth = 1;
    ctx.beginPath();
    for (let t = 0; t <= 65; t++) {
      const x = Math.round(X(t)) + 0.5;
      ctx.moveTo(x, a.bottom); ctx.lineTo(x, a.bottom + s.xTick);
    }
    for (let k = Math.ceil(L.ymin * 10); k <= Math.round(L.ymax * 10); k++) {
      const y = Math.round(Y(k / 10)) + 0.5;
      ctx.moveTo(a.left, y); ctx.lineTo(a.left - (k % 5 === 0 ? s.yMajor : s.yMinor), y);
    }
    ctx.stroke();

    // tick labels
    ctx.textBaseline = 'middle';
    xTickLabels.forEach((lab, i) => {
      drawText(ctx, lab, X(i * 5), a.bottom + s.xLabDy, s.tickFont, s.tickSx, lab === 'min' ? 'right' : 'center');
    });
    const yl = P.kind === 'A' ? yTickLabelsA : yTickLabelsB;
    yl.forEach((lab, i) => {
      drawText(ctx, lab, a.left - s.yLabGap, Y(i * 0.5), s.tickFont, s.tickSx, 'right');
    });

    // unit, detector and panel letter
    ctx.textBaseline = 'alphabetic';
    drawText(ctx, 'mV(x100)', a.left + s.mvDx, a.top + s.mvDy, s.mvFont, s.mvSx, 'left');
    drawText(ctx, 'Detector A:203nm', a.left + s.detDx, a.top + s.detDy, s.detFont, s.detSx, 'left');
    drawText(ctx, P.title, a.left + L.bigX, a.top + L.bigY, s.bigFont, s.bigSx, 'left');

    ctx.restore();
  }
};

panels.forEach(P => {
  const L = layout[P.id];
  const s = P.kind === 'A' ? styleA : styleB;
  const padL = Math.min(s.padL, L.x);
  const cv = document.createElement('canvas');
  cv.id = P.id;
  cv.width = L.w + padL + s.padR;
  cv.height = L.h + s.padT + s.padB;
  cv.style.left = (L.x - padL) + 'px';
  cv.style.top = (L.y - s.padT) + 'px';
  cv.style.width = cv.width + 'px';
  cv.style.height = cv.height + 'px';
  document.body.appendChild(cv);
  const yl = P.kind === 'A' ? yTickLabelsA : yTickLabelsB;

  new Chart(cv, {
    type: 'line',
    data: {
      datasets: [{
        data: P.trace.map(([x, y]) => ({ x, y })),
        borderColor: '#000',
        borderWidth: s.line,
        pointRadius: 0,
        fill: false,
        cubicInterpolationMode: 'monotone'
      }]
    },
    options: {
      responsive: false,
      animation: false,
      devicePixelRatio: 1,
      events: [],
      layout: { padding: { left: 0, top: s.padT, right: s.padR, bottom: 0 } },
      plugins: { legend: { display: false }, tooltip: { enabled: false } },
      scales: {
        x: {
          type: 'linear', min: 0, max: 65,
          afterBuildTicks: sc => { sc.ticks = xTickLabels.map((_, i) => ({ value: i * 5 })); },
          afterFit: sc => { sc.height = s.padB; },
          ticks: { display: false },
          grid: { color: '#c6c6c6', lineWidth: s.grid, drawTicks: false },
          border: { display: false }
        },
        y: {
          type: 'linear', min: L.ymin, max: L.ymax,
          afterBuildTicks: sc => { sc.ticks = yl.map((_, i) => ({ value: i * 0.5 })); },
          afterFit: sc => { sc.width = padL; },
          ticks: { display: false },
          grid: { color: '#c6c6c6', lineWidth: s.grid, drawTicks: false },
          border: { display: false }
        }
      }
    },
    plugins: [chromoPlugin]
  });
});
</script>
</body>
</html>
